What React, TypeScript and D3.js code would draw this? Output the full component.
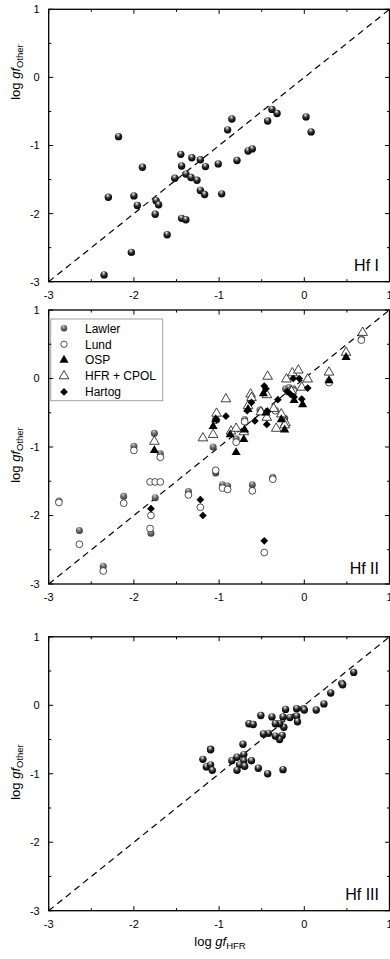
import React from 'react';
import * as d3 from 'd3';

type Pt = [number, number];

// Hf I : log gf (HFR) vs log gf (other)
const hfI: Pt[] = [
  [-2.18, -0.87], [-1.90, -1.32], [-2.30, -1.76], [-2.00, -1.74], [-1.96, -1.88], [-1.74, -1.81],
  [-1.71, -1.87], [-1.75, -2.01], [-2.03, -2.57], [-2.35, -2.90], [-1.61, -2.31], [-1.44, -2.07],
  [-1.39, -2.09], [-1.52, -1.48], [-1.45, -1.13], [-1.44, -1.30], [-1.39, -1.42], [-1.32, -1.18],
  [-1.33, -1.47], [-1.26, -1.51], [-1.22, -1.21], [-1.16, -1.31], [-1.22, -1.66], [-1.17, -1.72],
  [-1.01, -1.27], [-0.97, -1.71], [-0.90, -0.77], [-0.85, -0.61], [-0.79, -1.22], [-0.66, -1.08],
  [-0.61, -1.05], [-0.43, -0.64], [-0.38, -0.47], [-0.32, -0.53], [0.02, -0.58], [0.08, -0.80],
];

// Hf II series
const lawler: Pt[] = [
  [-2.88, -1.79], [-2.64, -2.22], [-2.36, -2.74], [-2.12, -1.72], [-2.00, -0.99], [-1.80, -2.26],
  [-1.75, -1.74], [-1.76, -0.80], [-1.69, -1.10], [-1.36, -1.65], [-1.04, -1.38], [-1.07, -1.00],
  [-0.96, -1.55], [-0.90, -1.57], [-0.61, -1.55], [-0.37, -1.44], [-0.80, -0.88], [-1.04, -0.60],
  [-0.70, -0.60], [-0.52, -0.46], [-0.22, -0.15], [-0.18, -0.13], [-0.13, -0.15], [-0.23, -0.58],
  [0.67, 0.575], [0.29, -0.04],
];
const lund: Pt[] = [
  [-2.88, -1.81], [-2.64, -2.42], [-2.36, -2.81], [-2.12, -1.82], [-2.00, -1.05], [-1.81, -1.51],
  [-1.75, -1.51], [-1.69, -1.51], [-1.80, -2.00], [-1.81, -2.19], [-1.69, -1.15], [-1.36, -1.70],
  [-1.22, -1.88], [-1.04, -1.34], [-0.96, -1.60], [-0.90, -1.62], [-0.61, -1.64], [-0.37, -1.47],
  [-0.47, -2.54], [-0.80, -0.93], [-1.04, -0.61], [-0.70, -0.63], [-0.34, -0.47], [0.29, -0.06],
  [0.67, 0.56], [-0.13, -0.18],
];
const osp: Pt[] = [
  [-1.76, -1.05], [-1.07, -0.70], [-1.04, -0.60], [-0.87, -0.82], [-0.80, -1.08], [-0.71, -0.89],
  [-0.70, -0.75], [-0.66, -0.45], [-0.48, -0.22], [-0.45, -0.50], [-0.27, -0.60], [-0.23, -0.75],
  [-0.12, -0.32], [-0.02, -0.38], [0.29, -0.03], [0.49, 0.31],
];
const hfrCpol: Pt[] = [
  [-1.76, -0.92], [-1.19, -0.87], [-1.07, -0.82], [-1.03, -0.51], [-0.92, -0.30], [-0.86, -0.77],
  [-0.80, -0.73], [-0.71, -0.78], [-0.63, -0.23], [-0.62, -0.28], [-0.66, -0.40], [-0.43, 0.03],
  [-0.44, -0.24], [-0.51, -0.49], [-0.44, -0.57], [-0.36, -0.44], [-0.33, -0.73], [-0.27, -0.52],
  [-0.22, -0.65], [-0.21, -0.01], [-0.14, 0.08], [-0.07, 0.12], [-0.03, -0.13], [0.04, -0.01],
  [0.29, 0.09], [0.49, 0.38], [0.685, 0.67], [-0.15, -0.19], [-0.23, -0.68],
];
const hartog: Pt[] = [
  [-1.80, -1.90], [-1.22, -1.77], [-1.19, -2.00], [-0.47, -2.37], [-0.92, -0.55], [-1.03, -0.60],
  [-0.67, -0.47], [-0.62, -0.35], [-0.58, -0.62], [-0.47, -0.11], [-0.45, -0.15], [-0.44, -0.67],
  [-0.43, -0.48], [-0.31, -0.31], [-0.20, -0.19], [-0.16, -0.23], [-0.12, -0.27], [-0.06, 0.00],
  [-0.13, 0.00], [-0.03, -0.30], [0.04, -0.14],
];

// Hf III
const hfIII: Pt[] = [
  [0.58, 0.48], [0.44, 0.32], [0.45, 0.30], [0.31, 0.18], [0.23, 0.02], [0.14, -0.07], [-0.01, -0.05],
  [0.00, -0.07], [-0.09, -0.05], [-0.09, -0.16], [-0.08, -0.24], [-0.17, -0.18], [-0.22, -0.06],
  [-0.25, -0.17], [-0.24, -0.32], [-0.29, -0.27], [-0.26, -0.44], [-0.29, -0.50], [-0.34, -0.27],
  [-0.38, -0.17], [-0.34, -0.45], [-0.42, -0.41], [-0.48, -0.42], [-0.51, -0.15], [-0.65, -0.27],
  [-0.60, -0.28], [-0.72, -0.57], [-0.71, -0.72], [-0.85, -0.81], [-0.79, -0.76], [-0.71, -0.81],
  [-0.62, -0.81], [-0.76, -0.87], [-0.70, -0.89], [-0.79, -0.95], [-0.54, -0.92], [-0.43, -1.00],
  [-0.25, -0.94], [-1.10, -0.64], [-1.10, -0.65], [-1.19, -0.79], [-1.15, -0.90], [-1.10, -0.87],
  [-1.08, -0.95],
];

const axisDomain = [-3, 1];
const majorTicks = [-3, -2, -1, 0, 1];
const legendLabels = ['Lawler', 'Lund', 'OSP', 'HFR + CPOL', 'Hartog'];
const panelTitles = ['Hf I', 'Hf II', 'Hf III'];

const W = 390;
const H = 959;
const LEFT = 48.7;
const RIGHT = 389.5;
const FONT = "Arial, 'Liberation Sans', Helvetica, sans-serif";

const panelBoxes = [
  { top: 9.3, bottom: 281.7, yLabelY: 72 },
  { top: 310, bottom: 584, yLabelY: 455 },
  { top: 636.8, bottom: 910.7, yLabelY: 772 },
];

const triPath = d3.symbol(d3.symbolTriangle, 36)() as string;
const triOpenPath = d3.symbol(d3.symbolTriangle, 40)() as string;
const diamondPath = d3.symbol(d3.symbolSquare, 30)() as string;

const Sphere = ({ cx, cy, r, grad }: { cx: number; cy: number; r: number; grad: string }) => (
  <circle cx={cx} cy={cy} r={r} fill={`url(#${grad})`} />
);

function Frame({ idx, children }: { idx: number; children?: React.ReactNode }) {
  const b = panelBoxes[idx];
  const x = d3.scaleLinear().domain(axisDomain).range([LEFT, RIGHT]);
  const y = d3.scaleLinear().domain(axisDomain).range([b.bottom, b.top]);
  const allTicks = x.ticks(8);
  const maj = 4.5;
  const min = 2.5;
  return (
    <g>
      <line x1={x(-3)} y1={y(-3)} x2={x(1)} y2={y(1)} stroke="#000" strokeWidth={1.2} strokeDasharray="6.5 4.5" />
      {children}
      <rect x={LEFT} y={b.top} width={RIGHT - LEFT} height={b.bottom - b.top} fill="none" stroke="#000" strokeWidth={1.3} />
      {allTicks.map((t) => {
        const len = Number.isInteger(t) ? maj : min;
        return (
          <g key={'t' + t}>
            <line x1={x(t)} x2={x(t)} y1={b.bottom} y2={b.bottom - len} stroke="#000" strokeWidth={1} />
            <line x1={x(t)} x2={x(t)} y1={b.top} y2={b.top + len} stroke="#000" strokeWidth={1} />
            <line y1={y(t)} y2={y(t)} x1={LEFT} x2={LEFT + len} stroke="#000" strokeWidth={1} />
            <line y1={y(t)} y2={y(t)} x1={RIGHT} x2={RIGHT - len} stroke="#000" strokeWidth={1} />
          </g>
        );
      })}
      {majorTicks.map((t) => (
        <text key={'yl' + t} x={LEFT - 9} y={y(t) + 3.9} textAnchor="end" fontSize={11} fontFamily={FONT} fill="#000">
          {t}
        </text>
      ))}
      {majorTicks.map((t) => (
        <text key={'xl' + t} x={x(t)} y={b.bottom + 17} textAnchor="middle" fontSize={11} fontFamily={FONT} fill="#000">
          {t}
        </text>
      ))}
      <text x={379} y={b.bottom - 10.5} textAnchor="end" fontSize={16} fontFamily={FONT} fill="#000">
        {panelTitles[idx]}
      </text>
      <text transform={`translate(19.5,${b.yLabelY}) rotate(-90)`} textAnchor="middle" fontSize={13} fontFamily={FONT} fill="#000">
        log <tspan fontStyle="italic">gf</tspan>
        <tspan fontSize={9.5} dy={3}>Other</tspan>
      </text>
    </g>
  );
}

function scales(idx: number) {
  const b = panelBoxes[idx];
  return {
    x: d3.scaleLinear().domain(axisDomain).range([LEFT, RIGHT]),
    y: d3.scaleLinear().domain(axisDomain).range([b.bottom, b.top]),
  };
}

export default function App() {
  const s0 = scales(0);
  const s1 = scales(1);
  const s2 = scales(2);
  const lx = 64;
  const ly0 = 328.3;
  const lstep = 15.9;
  return (
    <div style={{ position: 'absolute', left: 0, top: 0, width: W, height: H, background: '#fff' }}>
      <svg width={W} height={H} viewBox={`0 0 ${W} ${H}`} style={{ display: 'block' }}>
        <defs>
          <radialGradient id="gBlack" cx="0.45" cy="0.38" r="0.62" fx="0.42" fy="0.22">
            <stop offset="0" stopColor="#ffffff" />
            <stop offset="0.22" stopColor="#9a9a9a" />
            <stop offset="0.55" stopColor="#262626" />
            <stop offset="1" stopColor="#000000" />
          </radialGradient>
          <radialGradient id="gGray" cx="0.45" cy="0.38" r="0.62" fx="0.42" fy="0.22">
            <stop offset="0" stopColor="#dcdcdc" />
            <stop offset="0.3" stopColor="#8c8c8c" />
            <stop offset="0.7" stopColor="#555555" />
            <stop offset="1" stopColor="#333333" />
          </radialGradient>
        </defs>
        <rect x={0} y={0} width={W} height={H} fill="#fff" />

        <Frame idx={0}>
          {hfI.map((d, i) => (
            <Sphere key={i} cx={s0.x(d[0])} cy={s0.y(d[1])} r={3.7} grad="gBlack" />
          ))}
        </Frame>

        <Frame idx={1}>
          {lawler.map((d, i) => (
            <Sphere key={'la' + i} cx={s1.x(d[0])} cy={s1.y(d[1])} r={3.5} grad="gGray" />
          ))}
          {lund.map((d, i) => (
            <circle key={'lu' + i} cx={s1.x(d[0])} cy={s1.y(d[1])} r={3.4} fill="#fff" stroke="#222" strokeWidth={0.8} />
          ))}
          {hfrCpol.map((d, i) => (
            <path key={'hf' + i} d={triOpenPath} transform={`translate(${s1.x(d[0])},${s1.y(d[1])})`} fill="#fff" stroke="#111" strokeWidth={0.8} />
          ))}
          {osp.map((d, i) => (
            <path key={'os' + i} d={triPath} transform={`translate(${s1.x(d[0])},${s1.y(d[1])})`} fill="#000" />
          ))}
          {hartog.map((d, i) => (
            <path key={'ha' + i} d={diamondPath} transform={`translate(${s1.x(d[0])},${s1.y(d[1])}) rotate(45)`} fill="#000" />
          ))}
          <rect x={50.7} y={319} width={112} height={81.7} fill="#fff" stroke="#a0a0a0" strokeWidth={1} />
          {legendLabels.map((lab, i) => {
            const yy = ly0 + i * lstep;
            let mark: React.ReactNode = null;
            if (i === 0) mark = <Sphere cx={lx} cy={yy} r={3.2} grad="gGray" />;
            if (i === 1) mark = <circle cx={lx} cy={yy} r={3.2} fill="#fff" stroke="#222" strokeWidth={0.8} />;
            if (i === 2) mark = <path d={triPath} transform={`translate(${lx},${yy})`} fill="#000" />;
            if (i === 3) mark = <path d={triOpenPath} transform={`translate(${lx},${yy})`} fill="#fff" stroke="#111" strokeWidth={0.8} />;
            if (i === 4) mark = <path d={diamondPath} transform={`translate(${lx},${yy}) rotate(45)`} fill="#000" />;
            return (
              <g key={'lg' + i}>
                {mark}
                <text x={85} y={yy + 4.3} fontSize={12} fontFamily={FONT} fill="#000">
                  {lab}
                </text>
              </g>
            );
          })}
        </Frame>

        <Frame idx={2}>
          {hfIII.map((d, i) => (
            <Sphere key={i} cx={s2.x(d[0])} cy={s2.y(d[1])} r={3.7} grad="gBlack" />
          ))}
        </Frame>

        <text x={220} y={946} textAnchor="middle" fontSize={13} fontFamily={FONT} fill="#000">
          log <tspan fontStyle="italic">gf</tspan>
          <tspan fontSize={9.5} dy={3}>HFR</tspan>
        </text>
      </svg>
    </div>
  );
}
